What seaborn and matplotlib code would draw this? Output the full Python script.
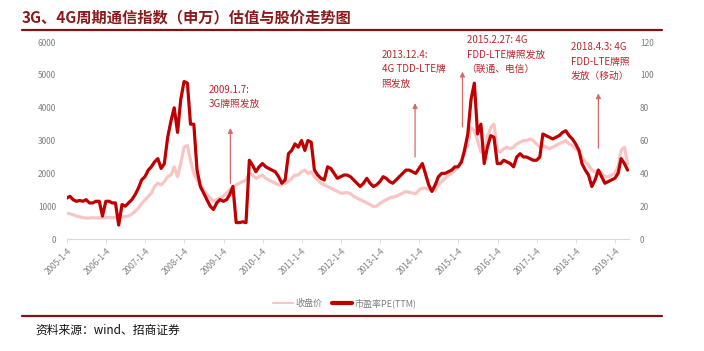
import pandas as pd
import matplotlib
matplotlib.use("Agg")
import matplotlib.pyplot as plt
from matplotlib.lines import Line2D
import seaborn as sns

# monthly readings, Jan 2005 .. May 2019
# 市盈率PE(TTM) -> right axis
pe_values = [
    25, 26, 24, 23, 23.5, 23, 24, 22, 22, 23, 23, 14,      # 2005
    23, 23, 22, 22, 8.5, 21, 20, 22, 24, 27, 31, 36,       # 2006
    38, 42, 44, 47, 49, 43, 46, 62, 72, 80, 65, 85,        # 2007
    96, 95, 70, 70, 42, 32, 28, 24, 20, 18, 22, 24,        # 2008
    23, 24, 27, 32, 10, 10, 10.5, 10, 48, 45, 41, 44,      # 2009
    46, 44, 43, 42, 41, 38, 34, 36, 52, 54, 58, 56,        # 2010
    60, 54, 60, 59, 42, 39, 37, 36, 44, 43, 40, 37,        # 2011
    38, 39, 39, 38, 36, 34, 32, 34, 37, 34, 32, 33,        # 2012
    35, 38, 37, 35, 34, 36, 38, 40, 42, 42, 41, 40,        # 2013
    43, 46, 40, 33, 29, 33, 38, 40, 40, 41, 42, 44,        # 2014
    44, 47, 54, 64, 85, 95, 64, 70, 46, 56, 63, 62,        # 2015
    46, 46, 48, 47, 46, 44, 50, 52, 50, 50, 49, 48,        # 2016
    48, 50, 64, 63, 62, 61, 62, 63, 65, 66, 63, 61,        # 2017
    58, 54, 46, 42, 39, 32, 36, 42, 38, 34, 35, 36,        # 2018
    37, 40, 49, 46, 42,                                    # 2019
]
# 收盘价 -> left axis
price_values = [
    780, 770, 740, 700, 680, 650, 640, 640, 650, 640, 650, 640,
    650, 660, 650, 660, 660, 670, 680, 700, 760, 840, 950, 1080,
    1190, 1300, 1400, 1600, 1700, 1650, 1750, 1900, 1950, 2200, 1900, 2300,
    2800, 2850, 2400, 2000, 1800, 1650, 1500, 1350, 1250, 1150, 1200, 1250,
    1300, 1400, 1500, 1600, 1650, 1700, 1750, 1800, 2000, 1950, 1850, 1900,
    1950, 1850, 1800, 1750, 1700, 1650, 1650, 1700, 1750, 1850, 1950, 1950,
    2050, 2100, 2000, 2050, 1900, 1800, 1700, 1650, 1600, 1550, 1500, 1450,
    1400, 1400, 1420, 1380, 1300, 1250, 1200, 1150, 1100, 1050, 990, 1000,
    1080, 1150, 1200, 1250, 1280, 1300, 1350, 1400, 1450, 1420, 1400, 1380,
    1500, 1550, 1550, 1500, 1480, 1500, 1650, 1750, 1850, 1950, 2000, 2100,
    2200, 2400, 2600, 2900, 3400, 3300, 3000, 2650, 2700, 3100, 3400, 3500,
    2700, 2650, 2750, 2800, 2750, 2800, 2900, 2950, 3000, 3000, 3050, 3000,
    2900, 2800, 2850, 2800, 2750, 2800, 2850, 2900, 2950, 3000, 2900, 2850,
    2750, 2650, 2500, 2350, 2250, 2100, 2050, 2100, 2000, 1900, 1900, 1950,
    2000, 2200, 2700, 2800, 2300,
]
years = list(range(2005, 2020))
tick_labels = [f"{y}-1-4" for y in years]

# annotations: (text, arrow date, arrow bottom, arrow top, text date, text top) - left axis units
notes = [
    ("2009.1.7:\n3G牌照发放", "2009-03-08", 1700, 3380, "2008-08-17", 4700),
    ("2013.12.4:\n4G TDD-LTE牌\n照发放", "2013-11-25", 2500, 4140, "2013-01-19", 5760),
    ("2015.2.27: 4G\nFDD-LTE牌照发放\n（联通、电信）", "2015-02-10", 3420, 5100, "2015-03-21", 6210),
    ("2018.4.3: 4G\nFDD-LTE牌照\n发放（移动）", "2018-08-01", 2770, 4440, "2017-11-16", 5990),
]

df = pd.DataFrame({
    "date": pd.date_range("2005-01-01", periods=len(pe_values), freq="MS"),
    "pe": pe_values,
    "price": price_values,
})

sns.set_theme(style="white")
plt.rcParams["font.family"] = ["Noto Sans CJK SC", "DejaVu Sans"]

fig = plt.figure(figsize=(7.04, 3.51), dpi=100)
ax = fig.add_axes([0.0952, 0.319, 0.798, 0.561])
ax2 = ax.twinx()

pink = "#f9c4c4"
dark = "#c00000"
sns.lineplot(data=df, x="date", y="price", ax=ax, color=pink, lw=2.3)
sns.lineplot(data=df, x="date", y="pe", ax=ax2, color=dark, lw=2.3)

ax.set_ylim(0, 6000)
ax2.set_ylim(0, 120)
ax.set_yticks(range(0, 6001, 1000))
ax2.set_yticks(range(0, 121, 20))
ax.set_xlim(pd.Timestamp("2005-01-04"), pd.Timestamp("2019-05-12"))
ax.set_xticks([pd.Timestamp(f"{y}-01-04") for y in years])
ax.set_xticklabels(tick_labels, rotation=45, ha="right", rotation_mode="anchor")

for a in (ax, ax2):
    a.set_xlabel("")
    a.set_ylabel("")
    for s in a.spines.values():
        s.set_visible(False)
    a.tick_params(axis="y", length=0, labelsize=6, colors="#7f7f7f", pad=8)
ax.spines["bottom"].set_visible(True)
ax.spines["bottom"].set_color("#d9d9d9")
ax.spines["bottom"].set_linewidth(0.8)
ax.tick_params(axis="x", bottom=True, length=3, width=0.6, color="#d9d9d9",
               labelsize=6, labelcolor="#7f7f7f", pad=2)
ax.grid(False)
ax2.grid(False)

note_color = "#b8262c"
for text, adate, y0, y1, tdate, ty in notes:
    ax.annotate("", xy=(pd.Timestamp(adate), y1), xytext=(pd.Timestamp(adate), y0),
                arrowprops=dict(arrowstyle="-|>", color="#d9686a", lw=0.9,
                                mutation_scale=7, shrinkA=0, shrinkB=0),
                annotation_clip=False)
    ax.text(pd.Timestamp(tdate), ty, text, color=note_color, fontsize=7,
            va="top", ha="left", linespacing=1.55, clip_on=False)

# title, rules, source
fig.text(0.031, 0.951, "3G、4G周期通信指数（申万）估值与股价走势图", fontsize=11,
         fontweight="bold", color="#8b1a1a", va="center", ha="left")
fig.add_artist(Line2D([0.031, 0.940], [0.915, 0.915], color="#7f1416", lw=1.6))
fig.add_artist(Line2D([0.031, 0.940], [0.100, 0.100], color="#7f1416", lw=1.6))
fig.text(0.05, 0.06, "资料来源：wind、招商证券", fontsize=8.5, color="#111111",
         va="center", ha="left")

handles = [Line2D([], [], color=pink, lw=1.5), Line2D([], [], color=dark, lw=3)]
fig.legend(handles, ["收盘价", "市盈率PE(TTM)"], loc="center",
           bbox_to_anchor=(0.49, 0.137), ncol=2, frameon=False, fontsize=6.5,
           labelcolor="#7f7f7f", handlelength=2.2, handletextpad=0.3, columnspacing=1.0)

fig.savefig("out.png", dpi=100)
plt.close(fig)
